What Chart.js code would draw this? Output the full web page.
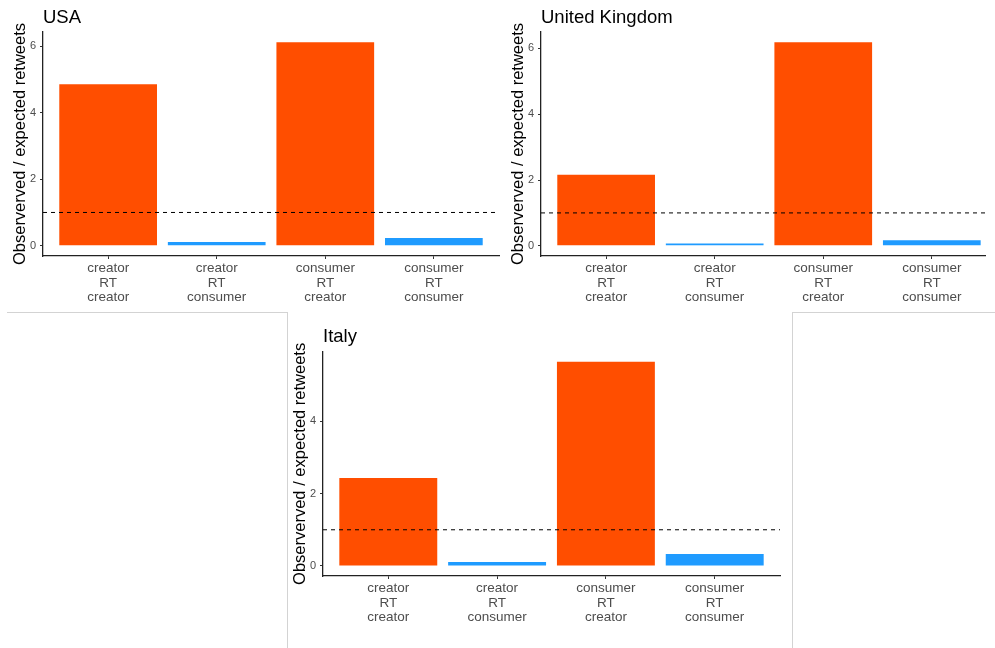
<!DOCTYPE html>
<html>
<head>
<meta charset="utf-8">
<title>Observed / expected retweets</title>
<script src="https://cdn.jsdelivr.net/npm/chart.js@4.4.1/dist/chart.umd.min.js"></script>
<style>
  html, body { margin: 0; padding: 0; background: #fff; }
  #wrap { position: relative; width: 995px; height: 648px; overflow: hidden; }
  .panel { position: absolute; }
  .rule { position: absolute; background: #d3d3d3; }
</style>
</head>
<body>
<div id="wrap">
  <canvas id="usaChart" class="panel" width="510" height="312" style="left:0;top:0"></canvas>
  <canvas id="ukChart" class="panel" width="497" height="312" style="left:498px;top:0"></canvas>
  <canvas id="italyChart" class="panel" width="510" height="336" style="left:280px;top:312px"></canvas>

  <div class="rule" style="left:7px;top:312px;width:281px;height:1px"></div>
  <div class="rule" style="left:287px;top:312px;width:1px;height:336px"></div>
  <div class="rule" style="left:792px;top:312px;width:1px;height:336px"></div>
  <div class="rule" style="left:792px;top:312px;width:203px;height:1px"></div>
</div>

<script>
// Data
const categories = [
    ['creator', 'RT', 'creator'],
    ['creator', 'RT', 'consumer'],
    ['consumer', 'RT', 'creator'],
    ['consumer', 'RT', 'consumer']
];
const usaValues = [4.86, 0.11, 6.12, 0.23];
const ukValues = [2.16, 0.07, 6.19, 0.17];
const italyValues = [2.43, 0.11, 5.65, 0.33];
const yTicksTop = [0, 2, 4, 6];
const yTicksItaly = [0, 2, 4];
const expectedLevel = 1;

const barColors = ['#FF4E00', '#1F9BFF', '#FF4E00', '#1F9BFF'];

Chart.defaults.font.family = '"Liberation Sans", Arial, sans-serif';
Chart.defaults.animation = false;

function makePanel(id, title, values, yTicks, opts) {
    const ctx = document.getElementById(id).getContext('2d');
    return new Chart(ctx, {
        type: 'bar',
        data: {
            datasets: [
                {
                    // dashed reference line at observed == expected
                    type: 'line',
                    data: [{ x: opts.xMin, y: expectedLevel }, { x: opts.xMax, y: expectedLevel }],
                    borderColor: '#000',
                    borderWidth: 1,
                    borderDash: [4, 4],
                    pointRadius: 0,
                    order: 0
                },
                {
                    data: values.map((v, i) => ({ x: i + 1, y: v })),
                    backgroundColor: barColors,
                    borderWidth: 0,
                    barPercentage: 0.9,
                    categoryPercentage: 1.0,
                    order: 1
                }
            ]
        },
        options: {
            responsive: false,
            events: [],
            layout: { padding: { right: opts.padRight } },
            plugins: {
                legend: { display: false },
                tooltip: { enabled: false },
                title: {
                    display: true,
                    text: title,
                    align: 'start',
                    fullSize: false,
                    color: '#000',
                    font: { size: 18.5, weight: 'normal' },
                    padding: { top: opts.titleTop, bottom: opts.titleBottom }
                }
            },
            scales: {
                x: {
                    type: 'linear',
                    min: opts.xMin,
                    max: opts.xMax,
                    offset: false,
                    afterBuildTicks: axis => { axis.ticks = categories.map((c, i) => ({ value: i + 1 })); },
                    afterFit: axis => { axis.height = opts.xHeight; },
                    grid: { offset: false, drawOnChartArea: false, tickLength: 3, tickColor: '#333' },
                    border: { color: '#222', width: 1.3 },
                    ticks: {
                        color: '#4d4d4d',
                        font: { size: 13.5, lineHeight: 1.08 },
                        padding: 2,
                        maxRotation: 0,
                        autoSkip: false,
                        callback: v => categories[v - 1]
                    }
                },
                y: {
                    min: opts.yMin,
                    max: opts.yMax,
                    afterBuildTicks: axis => { axis.ticks = yTicks.map(v => ({ value: v })); },
                    afterFit: axis => { axis.width = 43; },
                    grid: { drawOnChartArea: false, tickLength: 3, tickColor: '#333' },
                    border: { color: '#222', width: 1.3 },
                    ticks: { color: '#4d4d4d', font: { size: 11 }, padding: 4 },
                    title: {
                        display: true,
                        text: 'Observerved / expected retweets',
                        color: '#000',
                        font: { size: 16.5 },
                        padding: { top: 11, bottom: 0 }
                    }
                }
            }
        }
    });
}

makePanel('usaChart', 'USA', usaValues, yTicksTop, {
    xMin: 0.4, xMax: 4.6, yMin: -0.31, yMax: 6.43,
    padRight: 11, xHeight: 56, titleTop: 7, titleBottom: 2.8
});

makePanel('ukChart', 'United Kingdom', ukValues, yTicksTop, {
    xMin: 0.4, xMax: 4.49, yMin: -0.31, yMax: 6.5,
    padRight: 10, xHeight: 56, titleTop: 7, titleBottom: 2.8
});

makePanel('italyChart', 'Italy', italyValues, yTicksItaly, {
    xMin: 0.4, xMax: 4.6, yMin: -0.28, yMax: 5.93,
    padRight: 10, xHeight: 72, titleTop: 14, titleBottom: 3.5
});
</script>
</body>
</html>
